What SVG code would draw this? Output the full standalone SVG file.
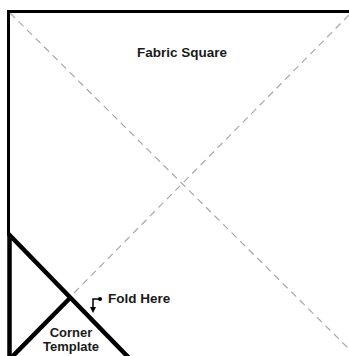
<svg xmlns="http://www.w3.org/2000/svg" width="349" height="356" viewBox="0 0 349 356">
<defs>
<style>
.border{fill:none;stroke:#000;stroke-width:3}
.thick{fill:none;stroke:#000;stroke-width:4.5}
.fold{fill:none;stroke:#a8a8a8;stroke-width:1.2;stroke-dasharray:7 5}
.lbl{font-family:"Liberation Sans",Arial,sans-serif;font-weight:bold;fill:#1a1a1a}
</style>
</defs>
<rect width="349" height="356" fill="#fff"/>
<g id="fabric-square">
<path class="border" d="M8.5,236 V11.5 H349"/>
<text class="lbl" x="182" y="57" font-size="13.5" text-anchor="middle">Fabric Square</text>
</g>
<g id="connectors">
<line class="fold" x1="10" y1="13" x2="349" y2="349"/>
<line class="fold" x1="349" y1="15" x2="71" y2="296"/>
<path d="M99,299 H93 V308" fill="none" stroke="#000" stroke-width="1.5"/>
<path d="M90,307 L96,307 L93,313 Z" fill="#000"/>
<circle cx="100" cy="299" r="2" fill="#000"/>
</g>
<g id="corner-template">
<path class="thick" d="M9.5,360 V235 L131,360"/>
<line class="thick" x1="71" y1="297" x2="8" y2="361"/>
<text class="lbl" x="71" y="337" font-size="13" text-anchor="middle">Corner</text>
<text class="lbl" x="71" y="351" font-size="13" text-anchor="middle">Template</text>
</g>
<g id="fold-label">
<text class="lbl" x="108" y="303" font-size="13.5">Fold Here</text>
</g>
</svg>
